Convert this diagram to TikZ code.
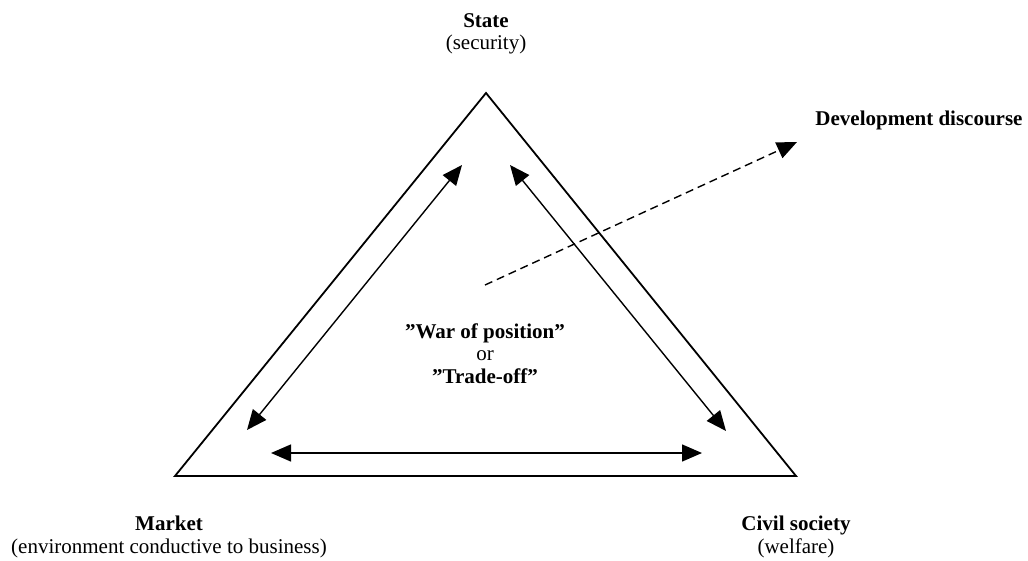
\documentclass[tikz,border=0pt]{standalone}
\usepackage{fontspec}
\setmainfont{Liberation Serif}
\usetikzlibrary{arrows.meta,positioning,calc}

\begin{document}
\begin{tikzpicture}[x=1pt, y=-1pt, >={Triangle[length=20pt,width=17pt]}, font=\fontsize{21}{22.5}\selectfont]
            % Styles
            \tikzset{label/.style={align=center, inner sep=0pt, anchor=base},
                     pair/.style={<->, line width=1.4pt},
                     side/.style={line width=1.8pt, line join=miter}}
            \useasboundingbox (0,0) rectangle (1028,561);

            % Corners of the triangle
            \coordinate (top) at (486,93);
            \coordinate (left) at (175,476);
            \coordinate (right) at (796,476);

            % Arrow ends
            \coordinate (l1) at (462,165);
            \coordinate (l2) at (247,430);
            \coordinate (r1) at (510,165);
            \coordinate (r2) at (726,431);
            \coordinate (b1) at (271,453);
            \coordinate (b2) at (702,453);
            \coordinate (d1) at (485,285);
            \coordinate (d2) at (797,142);

            % Labels (base = last line)
            \node[label] (state) at (486,50) {\textbf{State}\\(security)};
            \node[label] (market) at (169,553) {\textbf{Market}\\(environment conductive to business)};
            \node[label] (civil) at (796,553) {\textbf{Civil society}\\(welfare)};
            \node[label] (dev) at (919,126) {\textbf{Development discourse}};
            \node[label] (war) at (485,383) {\textbf{”War of position”}\\or\\\textbf{”Trade-off”}};

            % Triangle
            \draw[side] (top) -- (left) -- (right) -- cycle;

            % Arrows
            \draw[pair] (l1) -- (l2);
            \draw[pair] (r1) -- (r2);
            \draw[pair] (b1) -- (b2);
            \draw[->, line width=1.4pt, dash pattern=on 8pt off 5pt] (d1) -- (d2);
        \end{tikzpicture}
\end{document}
